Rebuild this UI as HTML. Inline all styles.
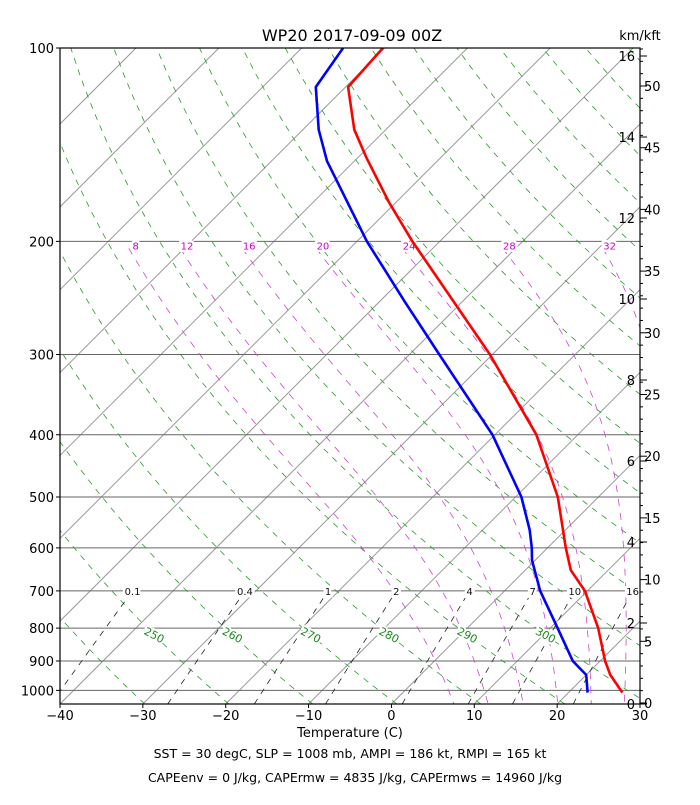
<!DOCTYPE html>
<html><head><meta charset="utf-8"><style>
body{margin:0;background:#fff;}
svg text{font-family:"DejaVu Sans","Liberation Sans",sans-serif;}
</style></head><body>
<svg id="chart" width="700" height="800" viewBox="0 0 700 800" xmlns="http://www.w3.org/2000/svg">
<defs><clipPath id="clip"><rect x="60" y="48" width="580" height="656"/></clipPath></defs>
<rect width="700" height="800" fill="#fff"/>
<g id="bg" clip-path="url(#clip)"></g>
<g id="labels"></g>
<g id="data" clip-path="url(#clip)"></g>
<rect x="60" y="48" width="580" height="656" fill="none" stroke="#000" stroke-width="1.2"/>
<g id="axes"></g>
<text x="352" y="41" font-size="16" text-anchor="middle">WP20 2017-09-09 00Z</text>
<text x="640" y="40" font-size="13" text-anchor="middle">km/kft</text>
<text x="350" y="737" font-size="13" text-anchor="middle">Temperature (C)</text>
<text x="350" y="758" font-size="12.5" text-anchor="middle">SST = 30 degC, SLP = 1008 mb, AMPI = 186 kt, RMPI = 165 kt</text>
<text x="355" y="782" font-size="12.5" text-anchor="middle">CAPEenv = 0 J/kg, CAPErmw = 4835 J/kg, CAPErmws = 14960 J/kg</text>
</svg>
<script>
const tempP=[1008,946,900,800,700,650,600,500,400,300,200,174,148,134,115,100];
const tempT=[26.5,22.9,20.6,15.8,9.7,5.5,2.2,-4.9,-15,-30.3,-53.3,-60.8,-69,-73.8,-79.7,-80.2];
const dewP=[1008,946,900,800,700,627,600,563,500,400,300,248,200,150,134,115,100];
const dewT=[22.3,20,16.7,10.9,4.3,-0.4,-1.9,-4.3,-9.3,-20.3,-36.4,-47,-58.8,-73.3,-78.1,-83.6,-85];
const isobars=[100,200,300,400,500,600,700,800,900,1000];
const xTicks=[-40,-30,-20,-10,0,10,20,30];
const mixVals=[0.1,0.4,1,2,4,7,10,16];
const mixLabels=["0.1","0.4","1","2","4","7","10","16"];
const moistLabels=[8,12,16,20,24,28,32];
const moistT200=[-86.7,-80.5,-73,-64.1,-53.7,-41.6,-29.5];
const dryLabels=[250,260,270,280,290,300];
const kmTicks=[0,2,4,6,8,10,12,14,16];
const kftTicks=[0,5,10,15,20,25,30,35,40,45,50];

const NS="http://www.w3.org/2000/svg";
const PB=1050, LR=Math.log10(PB/100);
function yOf(p){return 48+656*Math.log10(p/100)/LR;}
function xOf(T,p){return 60+(T+40)*580/70+(704-yOf(p));}
function mk(tag,attrs,parent){const e=document.createElementNS(NS,tag);for(const k in attrs)e.setAttribute(k,attrs[k]);parent.appendChild(e);return e;}
function pathD(pts){return pts.map((q,i)=>(i?'L':'M')+q[0].toFixed(1)+','+q[1].toFixed(1)).join('');}
const bg=document.getElementById('bg'),lab=document.getElementById('labels'),dat=document.getElementById('data'),ax=document.getElementById('axes');

for(let T=-160;T<=40;T+=10){
  const e=mk('line',{x1:xOf(T,PB),y1:704,x2:xOf(T,100),y2:48,stroke:'#999','stroke-width':1},bg);
  
  
}
isobars.forEach(p=>{
  const e=mk('line',{x1:60,x2:640,y1:yOf(p),y2:yOf(p),stroke:'#666','stroke-width':1},bg);
  
  
});
for(let th=200;th<=560;th+=10){
  const pts=[];
  for(let p=PB;p>=100;p-=10){const T=th*Math.pow(p/1000,0.286)-273.15;pts.push([xOf(T,p),yOf(p)]);}
  const e=mk('path',{d:pathD(pts),fill:'none',stroke:'#2a9a2a','stroke-width':0.8,'stroke-dasharray':'6,6'},bg);
  
  
}
function es(Tc){return 6.112*Math.exp(17.67*Tc/(Tc+243.5));}
function dTdp(Tk,p){const rs=0.622*es(Tk-273.15)/(p-es(Tk-273.15));const Lv=2.5e6,Rd=287,cp=1004;
  return (Rd*Tk+Lv*rs)/(p*(cp+Lv*Lv*rs*0.622/(Rd*Tk*Tk)));}
moistT200.forEach(t0=>{
  let Tk=t0+273.15,p=205;const pts=[[xOf(t0,p),yOf(p)]];const dp=5;
  while(p<PB){const k1=dTdp(Tk,p);const k2=dTdp(Tk+k1*dp/2,p+dp/2);Tk+=k2*dp;p+=dp;pts.push([xOf(Tk-273.15,p),yOf(p)]);}
  const e=mk('path',{d:pathD(pts),fill:'none',stroke:'#cc44cc','stroke-width':0.8,'stroke-dasharray':'7,7'},bg);
  
  
});
function tdFromW(w,p){const e=w/1000*p/(0.622+w/1000);const l=Math.log(e/6.112);return 243.5*l/(17.67-l);}
mixVals.forEach((w,i)=>{
  const pts=[];for(let p=PB;p>=718;p-=4)pts.push([xOf(tdFromW(w,p),p),yOf(p)]);
  const e=mk('path',{d:pathD(pts),fill:'none',stroke:'#222','stroke-width':0.8,'stroke-dasharray':'6,6'},bg);
  
  
  const x=xOf(tdFromW(w,700),700);
  const t=mk('text',{x:x,y:yOf(700)+4,'font-size':10,'text-anchor':'middle',fill:'#111',stroke:'#fff','stroke-width':5,'paint-order':'stroke'},lab);
  t.textContent=mixLabels[i];
  
  
});
moistLabels.forEach((v,i)=>{
  const t=mk('text',{x:xOf(moistT200[i],200),y:yOf(200)+8,'font-size':10,'text-anchor':'middle',fill:'#cc00cc',stroke:'#fff','stroke-width':5,'paint-order':'stroke'},lab);
  t.textContent=v;
  
  
});
dryLabels.forEach(th=>{
  const p=820,T=th*Math.pow(p/1000,0.286)-273.15;const x=xOf(T,p),y=yOf(p);
  const t=mk('text',{x:x,y:y+4,'font-size':11,'text-anchor':'middle',fill:'#1a8a1a',stroke:'#fff','stroke-width':4,'paint-order':'stroke',transform:'rotate(28 '+x+' '+y+')'},lab);
  t.textContent=th;
  
  
});
function prof(P,T,col,name){
  const pts=P.map((p,i)=>[xOf(T[i],p),yOf(p)]);
  const e=mk('path',{d:pathD(pts),fill:'none',stroke:col,'stroke-width':2.6,'stroke-linejoin':'round'},dat);
  
  
}
prof(tempP,tempT,'#ff0000','temperature-line');
prof(dewP,dewT,'#0000ff','dewpoint-line');
isobars.forEach(p=>{
  mk('line',{x1:56,x2:60,y1:yOf(p),y2:yOf(p),stroke:'#000'},ax);
  const t=mk('text',{x:54,y:yOf(p)+5,'font-size':13,'text-anchor':'end'},ax);
  t.textContent=p;
  
  
});
xTicks.forEach(T=>{
  const x=60+(T+40)*580/70;
  mk('line',{x1:x,x2:x,y1:704,y2:708,stroke:'#000'},ax);
  const t=mk('text',{x:x,y:720,'font-size':13,'text-anchor':'middle'},ax);
  t.textContent=(T<0?'\u2212'+(-T):T);
  
  
});
const kmPx=40.5, kftPx=12.34;
mk('line',{x1:640,x2:640,y1:48,y2:704,stroke:'#000'},ax);
kmTicks.forEach(k=>{
  const y=704-k*kmPx;
  mk('line',{x1:640,x2:647,y1:y,y2:y,stroke:'#000'},ax);
  const t=mk('text',{x:635,y:y+5,'font-size':13,'text-anchor':'end'},ax);
  t.textContent=k;
  
  
});
for(let f=0;f<=53;f++){const y=703-f*kftPx;mk('line',{x1:640,x2:f%5==0?647:643,y1:y,y2:y,stroke:'#000'},ax);}
kftTicks.forEach(f=>{
  const y=703-f*kftPx;
  const t=mk('text',{x:644,y:y+5,'font-size':13,'text-anchor':'start'},ax);
  t.textContent=f;
  
  
});
</script>
</body></html>
